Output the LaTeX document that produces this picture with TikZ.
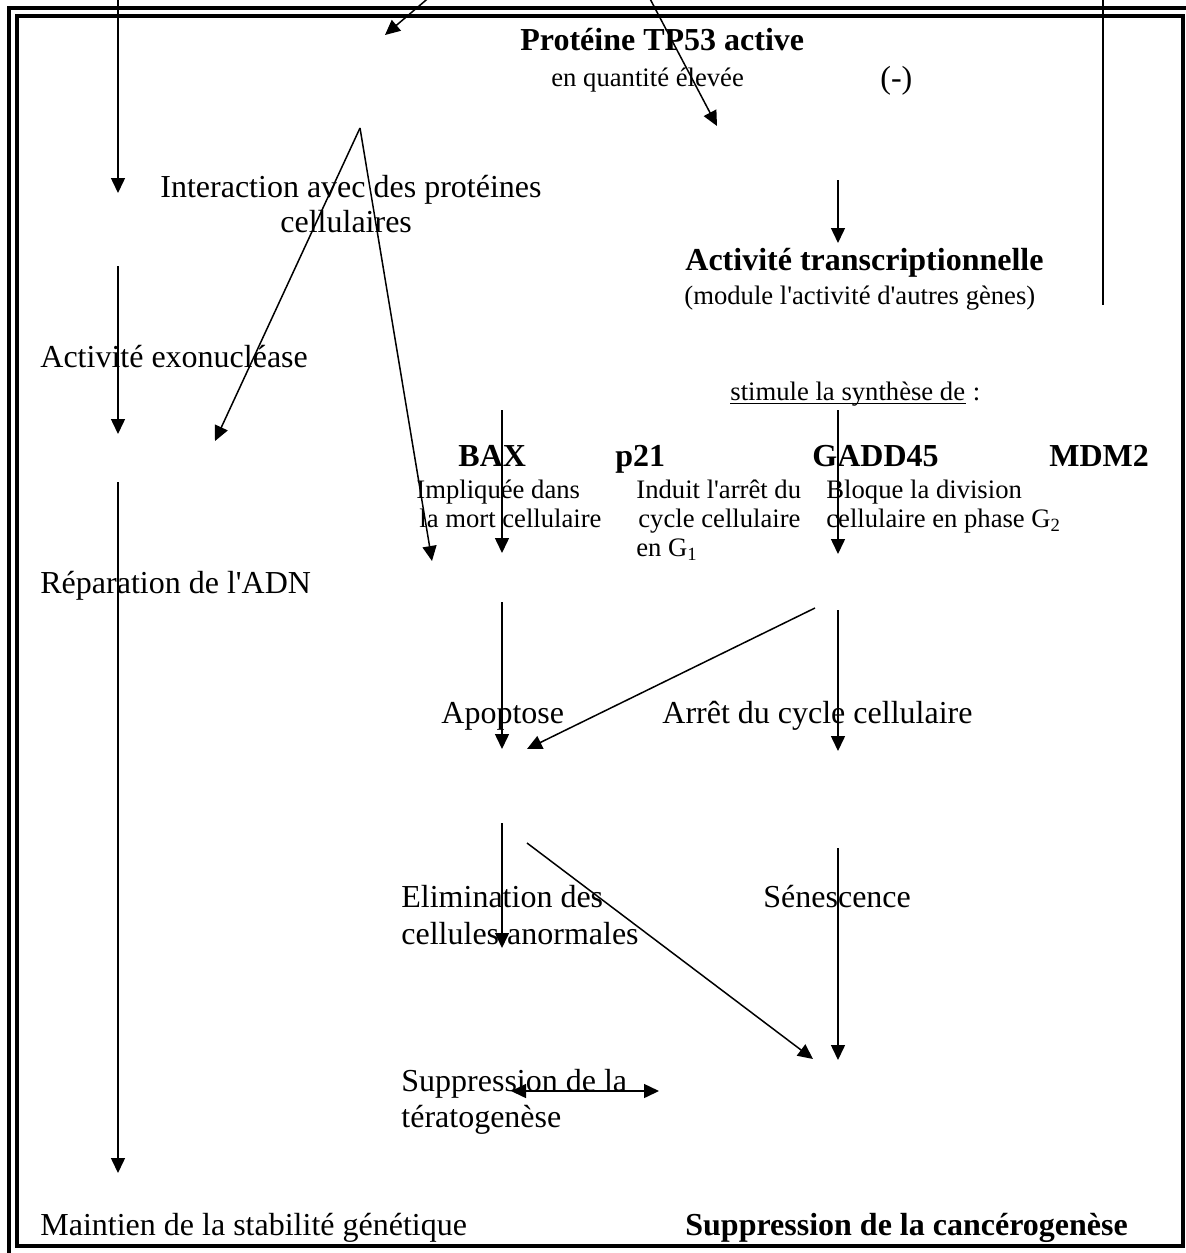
\documentclass[tikz,border=0pt]{standalone}
\usepackage{fontspec}
\setmainfont{Liberation Serif}
\usetikzlibrary{arrows.meta}
\newcommand{\apo}{\textquotesingle}
\begin{document}
\begin{tikzpicture}[x=0.5pt,y=-0.5pt,
  tip/.tip={Triangle[length=7.5pt,width=7pt]},
  conn/.style={line width=0.75pt,-tip},
  both/.style={line width=0.75pt,tip-tip},
  plainline/.style={line width=0.75pt},
  frameline/.style={line width=2pt},
  big/.style={font=\fontsize{16}{18.5}\selectfont,inner sep=0pt,anchor=base west},
  bigb/.style={font=\fontsize{16}{18.5}\selectfont\bfseries,inner sep=0pt,anchor=base west},
  small/.style={font=\fontsize{13.33}{14.5}\selectfont,inner sep=0pt,anchor=base west}]
\useasboundingbox (0,0) rectangle (1186,1253);
\clip (0,0) rectangle (1186,1253);
% double frame
\draw[frameline] (9,1300) -- (9,8) -- (1250,8);
\draw[frameline] (17,16) rectangle (1183,1246);

% texts
\node[bigb]  (prot)   at (520,50)  {Protéine TP53 active};
\node[small] (qte)    at (551,86)  {en quantité élevée};
\node[big]   (moins)  at (880,88)  {(-)};
\node[big]   (inter1) at (160,197) {Interaction avec des protéines};
\node[big]   (inter2) at (280,232) {cellulaires};
\node[bigb]  (transc) at (685,270) {Activité transcriptionnelle};
\node[small] (module) at (684,304) {(module l\apo activité d\apo autres gènes)};
\node[big]   (exo)    at (40,367)  {Activité exonucléase};
\node[small] (stim)   at (730,400) {stimule la synthèse de};
\node[small,anchor=base west] (colon) at ([xshift=3.5pt]stim.base east) {:};
\draw[line width=0.6pt] ([yshift=-1.6pt]stim.base west) -- ([yshift=-1.6pt]stim.base east);
\node[bigb]  (bax)    at (458,466) {BAX};
\node[bigb]  (p21)    at (615,466) {p21};
\node[bigb]  (gadd)   at (812,466) {GADD45};
\node[bigb]  (mdm)    at (1049,466) {MDM2};
\node[small] (bax1)   at (416,498) {Impliquée dans};
\node[small] (bax2)   at (419,527) {la mort cellulaire};
\node[small] (p21a)   at (636,498) {Induit l\apo arrêt du};
\node[small] (p21b)   at (638,527) {cycle cellulaire};
\node[small] (p21c)   at (636,556) {en G\textsubscript{1}};
\node[small] (gadd1)  at (826,498) {Bloque la division};
\node[small] (gadd2)  at (826,527) {cellulaire en phase G\textsubscript{2}};
\node[big]   (repar)  at (40,593)  {Réparation de l\apo ADN};
\node[big]   (apop)   at (441,723) {Apoptose};
\node[big]   (arret)  at (662,723) {Arrêt du cycle cellulaire};
\node[big]   (elim1)  at (401,907) {Elimination des};
\node[big]   (elim2)  at (401,944) {cellules anormales};
\node[big]   (sen)    at (763,907) {Sénescence};
\node[big]   (supp1)  at (401,1091) {Suppression de la};
\node[big]   (supp2)  at (401,1127) {tératogenèse};
\node[big]   (maint)  at (40,1235) {Maintien de la stabilité génétique};
\node[bigb]  (cancer) at (685,1235) {Suppression de la cancérogenèse};

% connector end points
\coordinate (a1s) at (118,-5);   \coordinate (a1e) at (118,193);
\coordinate (a2s) at (432,-5);   \coordinate (a2e) at (385,35);
\coordinate (a3s) at (648,-5);   \coordinate (a3e) at (717,126);
\coordinate (a4s) at (1103,-5);  \coordinate (a4e) at (1103,305);
\coordinate (apex) at (360,128);
\coordinate (a5e) at (215,441);
\coordinate (a6e) at (432,561);
\coordinate (a7s) at (838,180);  \coordinate (a7e) at (838,243);
\coordinate (a8s) at (118,266);  \coordinate (a8e) at (118,434);
\coordinate (a9s) at (118,482);  \coordinate (a9e) at (118,1173);
\coordinate (a10s) at (502,410); \coordinate (a10e) at (502,553);
\coordinate (a11s) at (838,410); \coordinate (a11e) at (838,554);
\coordinate (a12s) at (502,602); \coordinate (a12e) at (502,749);
\coordinate (a13s) at (815,608); \coordinate (a13e) at (527,749);
\coordinate (a14s) at (838,610); \coordinate (a14e) at (838,751);
\coordinate (a15s) at (502,823); \coordinate (a15e) at (502,948);
\coordinate (a16s) at (527,843); \coordinate (a16e) at (813,1059);
\coordinate (a17s) at (838,848); \coordinate (a17e) at (838,1060);
\coordinate (a18s) at (511,1091); \coordinate (a18e) at (659,1091);

% connectors
\draw[conn] (a1s) -- (a1e);
\draw[conn] (a2s) -- (a2e);
\draw[conn] (a3s) -- (a3e);
\draw[plainline] (a4s) -- (a4e);
\draw[conn] (apex) -- (a5e);
\draw[conn] (apex) -- (a6e);
\draw[conn] (a7s) -- (a7e);
\draw[conn] (a8s) -- (a8e);
\draw[conn] (a9s) -- (a9e);
\draw[conn] (a10s) -- (a10e);
\draw[conn] (a11s) -- (a11e);
\draw[conn] (a12s) -- (a12e);
\draw[conn] (a13s) -- (a13e);
\draw[conn] (a14s) -- (a14e);
\draw[conn] (a15s) -- (a15e);
\draw[conn] (a16s) -- (a16e);
\draw[conn] (a17s) -- (a17e);
\draw[both] (a18s) -- (a18e);
\end{tikzpicture}
\end{document}
